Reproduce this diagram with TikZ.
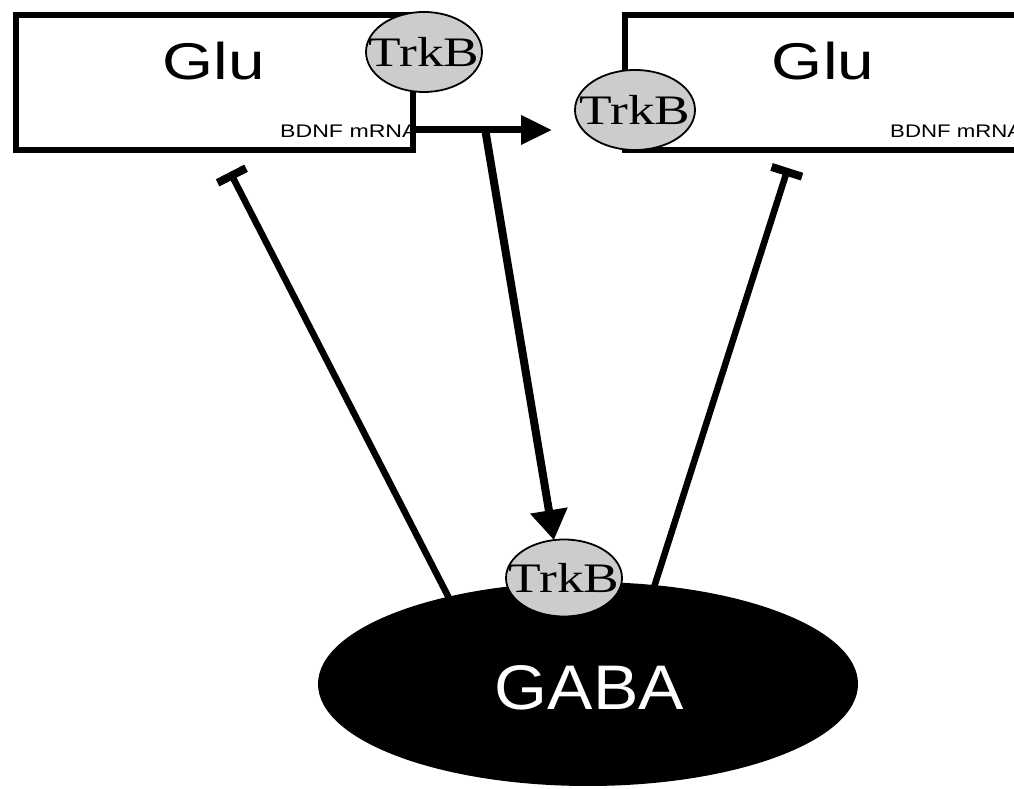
\documentclass[tikz,border=0pt]{standalone}
\usepackage{fontspec}
\newfontfamily\sansrm{Liberation Sans}
\newfontfamily\serifrm{Liberation Serif}
\usetikzlibrary{shapes.geometric,arrows.meta,calc}
\pgfdeclarelayer{back}
\pgfsetlayers{back,main}

\tikzset{
  cell/.style={draw, line width=6pt, inner sep=0pt, outer sep=0pt, minimum height=135pt},
  receptor/.style={ellipse, draw, line width=1.8pt, fill=black!20, inner sep=0pt, outer sep=0pt,
    label={[font=\serifrm\fontsize{42}{42}\selectfont, inner sep=0pt]center:\scalebox{1.27}[1]{TrkB}}},
  celllabel/.style={font=\sansrm\fontsize{51.7}{52}\selectfont, anchor=base, inner sep=0pt},
  mrna/.style={font=\sansrm\fontsize{18.2}{18}\selectfont, anchor=base west, inner sep=0pt},
  excite/.style={line width=7pt, -{Triangle[length=31pt,width=28pt]}},
  inhibit/.style={line width=6.5pt, -{Bar[width=32pt,line width=8pt]}},
}

\begin{document}
\begin{tikzpicture}[x=1pt,y=1pt]
\useasboundingbox (0,0) rectangle (1014,789);
\begin{pgfonlayer}{back}
  \fill[white] (0,0) rectangle (1014,789);
\end{pgfonlayer}

% mRNA labels, tucked under the cell outlines
\begin{scope}
  \clip (16,639) rectangle (413,774);
  \node[mrna] (mrnaL) at (280,651) {\scalebox{1.27}[1]{BDNF mRNA}};
\end{scope}
\node[mrna] (mrnaR) at (890,651) {\scalebox{1.22}[1]{BDNF mRNA}};

% glutamatergic cells
\node[cell, minimum width=397pt] (gluL) at (214.5,706.5) {};
\node[cell, minimum width=415pt] (gluR) at (832.5,706.5) {};
\node[celllabel] (gluLt) at (214,709) {\scalebox{1.27}[1]{Glu}};
\node[celllabel] (gluRt) at (823,709) {\scalebox{1.27}[1]{Glu}};

% TrkB receptors on the glutamatergic cells
\node[receptor, minimum width=116pt, minimum height=80pt] (trkbL) at (424,737) {};
\node[receptor, minimum width=120pt, minimum height=80pt] (trkbR) at (635,679) {};

% GABAergic cell and its receptor
\node[ellipse, fill=black, minimum width=540pt, minimum height=204pt, inner sep=0pt, outer sep=0pt] (gaba) at (588,105) {};
\node[receptor, minimum width=116pt, minimum height=77pt] (trkbG) at (564,211) {};
\node[font=\sansrm\fontsize{63}{63}\selectfont, text=white, anchor=base, inner sep=0pt] (gabat) at (589.5,79) {\scalebox{1.08}[1]{GABA}};

% BDNF release towards the neighbouring cell and the interneuron
\coordinate (rel) at ($(gluL.south east)+(0,20)$);
\coordinate (relTip) at (552,659);
\coordinate (fork) at ($(rel)!0.52!(relTip)$);
\draw[excite] (rel) -- (relTip);
\draw[line width=8pt, -{Triangle[length=30pt,width=36pt]}] (fork) -- (trkbG.105);

% inhibition of the glutamatergic cells
\coordinate (barL) at (230,617);
\coordinate (barR) at (788,621);
\begin{pgfonlayer}{back}
  \draw[inhibit, shorten <=-8pt] (gaba.148) -- (barL);
  \draw[inhibit, shorten <=-8pt] (gaba.56) -- (barR);
\end{pgfonlayer}
\end{tikzpicture}
\end{document}
